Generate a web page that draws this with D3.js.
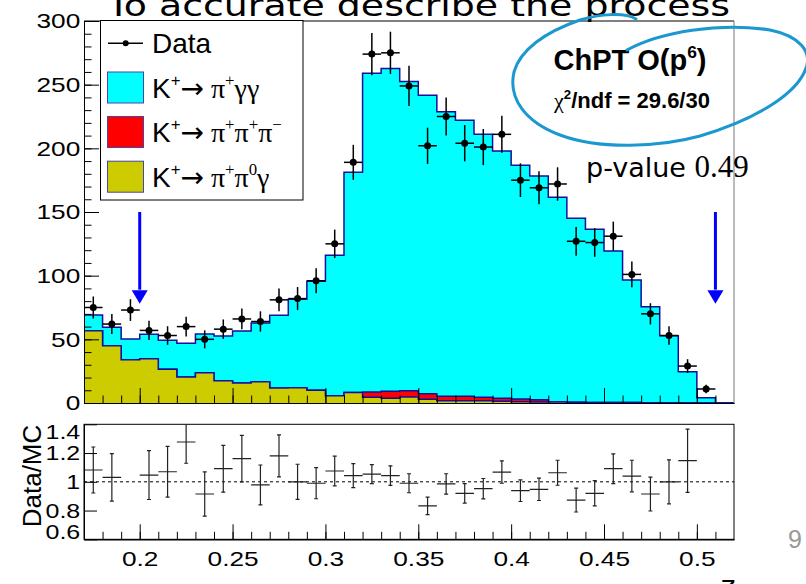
<!DOCTYPE html>
<html>
<head>
<meta charset="utf-8">
<script src="https://cdn.jsdelivr.net/npm/d3@7"></script>
<style>
  body { margin: 0; background: #fff; }
  svg { display: block; font-family: "Liberation Sans", Arial, sans-serif; }
</style>
</head>
<body>
<div id="chart"></div>
<script>
// bin centres in z (bin width 0.01)
const zCenters = [0.175, 0.185, 0.195, 0.205, 0.215, 0.225, 0.235, 0.245, 0.255, 0.265,
  0.275, 0.285, 0.295, 0.305, 0.315, 0.325, 0.335, 0.345, 0.355, 0.365,
  0.375, 0.385, 0.395, 0.405, 0.415, 0.425, 0.435, 0.445, 0.455, 0.465,
  0.475, 0.485, 0.495, 0.505, 0.515];
// observed events per bin
const dataCounts = [75, 62, 73, 57, 53, 60, 50, 58, 66, 64,
  81, 82, 96, 125, 189, 274, 275, 249, 202, 225,
  204, 201, 211, 175, 169, 172, 127, 126, 131, 101,
  70, 53, 29, 11, null];
// MC components (stacked bottom -> top)
const mcPi0G = [56.8, 45, 34, 34.8, 26.5, 20.4, 23.8, 17.5, 15.7, 16.7,
  11.8, 12, 10, 5.6, 8.2, 4.5, 3.7, 4.7, 2.9, 1.8,
  1.8, 1.8, 1.3, 1.0, 0.8, 0.8, 0.5, 0.4, 0.3, 0.3,
  0.2, 0.2, 0.1, 0, 0];
const mcPiPiPi = [0, 0, 0, 0, 0, 0, 0, 0, 0, 0,
  0, 0, 0, 0, 0, 4.1, 5.6, 5.0, 4.4, 3.5,
  3.5, 2.7, 2.4, 2.1, 1.8, 0, 0, 0, 0, 0,
  0, 0, 0, 0, 0];
const mcPiGG = [12.3, 14.4, 16.3, 19.2, 22.7, 26.5, 30.4, 35.1, 40.8, 46.1,
  57.1, 69.4, 85.6, 110.4, 173, 250.3, 253.3, 242.7, 234.3, 223.5,
  216.7, 206.5, 194.3, 183.6, 175.7, 160.7, 144.5, 136, 119.1, 96.3,
  75.4, 52.7, 24.5, 4.2, 0];
// Data/MC ratio and its error
const ratioVals = [1.082, 1.031, null, 1.047, 1.07, 1.277, 0.915, 1.091, 1.161, 0.978,
  1.18, 1.0, 0.99, 1.075, 1.043, 1.054, 1.043, 0.99, 0.832, 0.985,
  0.92, 0.952, 1.068, 0.938, 0.948, 1.063, 0.873, 0.92, 1.091, 1.04,
  0.915, 1.0, 1.147, null, null];
const ratioErrs = [0.16, 0.165, null, 0.17, 0.176, 0.148, 0.154, 0.163, 0.162, 0.139,
  0.146, 0.122, 0.108, 0.103, 0.083, 0.066, 0.068, 0.066, 0.061, 0.071,
  0.068, 0.071, 0.078, 0.075, 0.078, 0.087, 0.083, 0.088, 0.103, 0.11,
  0.118, 0.153, 0.22, null, null];

const cutArrows = [0.2, 0.51];
const xTicks = [0.2, 0.25, 0.3, 0.35, 0.4, 0.45, 0.5];
const yTicksMain = [0, 50, 100, 150, 200, 250, 300];
const yTicksRatio = [0.6, 0.8, 1, 1.2, 1.4];

const binW = 0.01;
const width = 806, height = 584;
const SERIF = "'Liberation Serif', 'Times New Roman', serif";
const COMIC = "'Comic Sans MS', 'DejaVu Sans', sans-serif";

const svg = d3.select("#chart").append("svg")
  .attr("width", width)
  .attr("height", height);

// scales
const x = d3.scaleLinear().domain([0.17, 0.52]).range([84, 734]);
const yMain = d3.scaleLinear().domain([0, 300]).range([403, 21]);
const yRatio = d3.scaleLinear().domain([0.6, 1.4]).range([539.3, 424.3]);

// ---- stacked MC histograms
const rows = zCenters.map((z, i) => ({
  z: z, pi0g: mcPi0G[i], pipipi: mcPiPiPi[i], pigg: mcPiGG[i]
}));
const keys = ["pi0g", "pipipi", "pigg"];
const fills = { pi0g: "#cccc00", pipipi: "#ff0000", pigg: "#00ffff" };
const series = d3.stack().keys(keys)(rows);

// step points at the low edge of every bin plus the closing edge
function stepPts(s) {
  let pts = s.map((d, i) => ({ x: zCenters[i] - binW / 2, y1: d[1] }));
  let last = pts[pts.length - 1];
  pts.push({ x: zCenters[zCenters.length - 1] + binW / 2, y1: last.y1 });
  return pts;
}

const area = d3.area()
  .curve(d3.curveStepAfter)
  .x(d => x(d.x))
  .y0(yMain(0))
  .y1(d => yMain(d.y1));
const topLine = d3.line()
  .curve(d3.curveStepAfter)
  .x(d => x(d.x))
  .y(d => yMain(d.y1));

// draw top layer first like ROOT does, each filled from zero
const stackG = svg.append("g");
series.slice().reverse().forEach(s => {
  let pts = stepPts(s);
  stackG.append("path").datum(pts)
    .attr("d", area)
    .attr("fill", fills[s.key]);
  stackG.append("path").datum(pts)
    .attr("d", topLine)
    .attr("fill", "none")
    .attr("stroke", "#10109a")
    .attr("stroke-width", 1.5);
});

// ---- axes for the main panel
function styleAxis(g) {
  g.selectAll("path, line").attr("stroke", "#000").attr("stroke-width", 1);
  g.selectAll("text")
    .attr("font-size", 21)
    .attr("fill", "#000")
    .attr("font-family", "'Liberation Sans', Arial, sans-serif")
    .attr("transform", "scale(1.25,1)");
}

const xMinor = d3.range(18, 52).map(v => v / 100);
const yMinorMain = d3.range(0, 301, 10);

svg.append("g")
  .attr("transform", `translate(0,${yMain(0)})`)
  .call(d3.axisBottom(x).tickValues(xMinor).tickSizeInner(-7.5).tickSizeOuter(0).tickFormat(""))
  .call(styleAxis);
svg.append("g")
  .attr("transform", `translate(0,${yMain(0)})`)
  .call(d3.axisBottom(x).tickValues(xTicks).tickSizeInner(-15).tickSizeOuter(0).tickFormat(""))
  .call(styleAxis);
svg.append("g")
  .attr("transform", `translate(${x.range()[0]},0)`)
  .call(d3.axisLeft(yMain).tickValues(yMinorMain).tickSizeInner(-7.5).tickSizeOuter(0).tickFormat(""))
  .call(styleAxis);
svg.append("g")
  .attr("transform", `translate(${x.range()[0]},0)`)
  .call(d3.axisLeft(yMain).tickValues(yTicksMain).tickSizeInner(-15).tickSizeOuter(0).tickPadding(3))
  .call(styleAxis);

// frame top + right
svg.append("line")
  .attr("x1", x.range()[0]).attr("x2", x.range()[1])
  .attr("y1", yMain(300)).attr("y2", yMain(300))
  .attr("stroke", "#000");
svg.append("line")
  .attr("x1", x.range()[1]).attr("x2", x.range()[1])
  .attr("y1", yMain(300)).attr("y2", yMain(0))
  .attr("stroke", "#777");

// ---- data points
const dataG = svg.append("g");
zCenters.forEach((z, i) => {
  let n = dataCounts[i];
  if (n === null) return;
  let e = Math.sqrt(n);
  dataG.append("line")
    .attr("x1", x(z - binW / 2)).attr("x2", x(z + binW / 2))
    .attr("y1", yMain(n)).attr("y2", yMain(n))
    .attr("stroke", "#000").attr("stroke-width", 1.5);
  dataG.append("line")
    .attr("x1", x(z)).attr("x2", x(z))
    .attr("y1", yMain(n - e)).attr("y2", yMain(n + e))
    .attr("stroke", "#000").attr("stroke-width", 1.5);
  dataG.append("circle")
    .attr("cx", x(z)).attr("cy", yMain(n)).attr("r", 3.5)
    .attr("fill", "#000");
});

// ---- cut arrows
cutArrows.forEach(z => {
  svg.append("line")
    .attr("x1", x(z)).attr("x2", x(z))
    .attr("y1", yMain(150)).attr("y2", yMain(89))
    .attr("stroke", "#0000ff").attr("stroke-width", 3);
  let tip = yMain(78), base = yMain(88.5);
  svg.append("path")
    .attr("d", `M${x(z) - 8},${base} L${x(z) + 8},${base} L${x(z)},${tip} Z`)
    .attr("fill", "#0000ff");
});

// ---- legend
const leg = svg.append("g");
leg.append("rect")
  .attr("x", 100.5).attr("y", 20.5).attr("width", 202.5).attr("height", 179.5)
  .attr("fill", "#fff").attr("stroke", "#000").attr("stroke-width", 1);

// rich text with superscripts and symbol glyphs
function rich(g, xp, yp, size, parts, anchor) {
  let t = g.append("text").attr("x", xp).attr("y", yp)
    .attr("font-size", size)
    .attr("text-anchor", anchor || "start");
  let cur = 0;
  parts.forEach(p => {
    let target = p.sup ? -size * 0.42 : 0;
    let s = t.append("tspan").text(p.t).attr("dy", target - cur);
    cur = target;
    if (p.sup) s.attr("font-size", size * 0.6);
    if (p.serif) s.style("font-family", SERIF).style("font-weight", "normal");
    if (p.arrow) s.style("font-family", "'DejaVu Sans', sans-serif");
  });
  return t;
}

const legendRows = [
  { y: 87.5, fill: fills.pigg, parts: [{ t: "K" }, { t: "+", sup: true }, { t: "\u2192", arrow: true }, { t: " \u03c0", serif: true }, { t: "+", sup: true, serif: true }, { t: "\u03b3\u03b3", serif: true }] },
  { y: 132, fill: fills.pipipi, parts: [{ t: "K" }, { t: "+", sup: true }, { t: "\u2192", arrow: true }, { t: " \u03c0", serif: true }, { t: "+", sup: true, serif: true }, { t: "\u03c0", serif: true }, { t: "+", sup: true, serif: true }, { t: "\u03c0", serif: true }, { t: "\u2212", sup: true, serif: true }] },
  { y: 176.7, fill: fills.pi0g, parts: [{ t: "K" }, { t: "+", sup: true }, { t: "\u2192", arrow: true }, { t: " \u03c0", serif: true }, { t: "+", sup: true, serif: true }, { t: "\u03c0", serif: true }, { t: "0", sup: true, serif: true }, { t: "\u03b3", serif: true }] }
];

// data row
leg.append("line").attr("x1", 108).attr("x2", 143).attr("y1", 43.3).attr("y2", 43.3)
  .attr("stroke", "#000").attr("stroke-width", 1.5);
leg.append("circle").attr("cx", 125.7).attr("cy", 43.3).attr("r", 3).attr("fill", "#000");
leg.append("text").attr("x", 152).attr("y", 53.3).attr("font-size", 28).text("Data");

legendRows.forEach(r => {
  leg.append("rect")
    .attr("x", 107.5).attr("y", r.y - 15.5).attr("width", 36).attr("height", 31)
    .attr("fill", r.fill).attr("stroke", "#4646a8").attr("stroke-width", 1);
  rich(leg, 152, r.y + 10, 28, r.parts);
});

// ---- annotations
svg.append("text")
  .attr("x", 107).attr("y", 16)
  .style("font-family", COMIC)
  .attr("font-size", 31)
  .attr("textLength", 623).attr("lengthAdjust", "spacingAndGlyphs")
  .text("To accurate describe the process");

const fitG = svg.append("g").attr("font-weight", "bold");
rich(fitG, 630, 70, 29, [{ t: "ChPT O(p" }, { t: "6", sup: true }, { t: ")" }], "middle");
rich(fitG, 632, 108, 22, [{ t: "\u03c7", serif: true }, { t: "2", sup: true }, { t: "/ndf = 29.6/30" }], "middle");

svg.append("path")
  .attr("d", "M627,50 C660,32 720,22 770,30 C800,36 812,52 806,68 C798,92 760,118 700,136 C660,147 600,150 560,135 C525,122 508,98 514,72 C520,50 545,32 580,20 C600,14 625,12 636,19")
  .attr("fill", "none")
  .attr("stroke", "#1c98d0")
  .attr("stroke-width", 3)
  .attr("stroke-linecap", "round");

const pv = svg.append("text").attr("x", 586).attr("y", 177);
pv.append("tspan")
  .style("font-family", COMIC)
  .attr("font-size", 27)
  .text("p-value ");
pv.append("tspan")
  .style("font-family", SERIF)
  .attr("font-size", 31)
  .text("0.49");

// ---- ratio panel
svg.append("defs").append("clipPath").attr("id", "ratioClip")
  .append("rect")
  .attr("x", x.range()[0]).attr("y", yRatio(1.4))
  .attr("width", x.range()[1] - x.range()[0])
  .attr("height", yRatio(0.6) - yRatio(1.4));

svg.append("rect")
  .attr("x", x.range()[0]).attr("y", yRatio(1.4))
  .attr("width", x.range()[1] - x.range()[0])
  .attr("height", yRatio(0.6) - yRatio(1.4))
  .attr("fill", "none").attr("stroke", "#000");

svg.append("line")
  .attr("x1", x.range()[0]).attr("x2", x.range()[1])
  .attr("y1", yRatio(1)).attr("y2", yRatio(1))
  .attr("stroke", "#000").attr("stroke-dasharray", "3,3");

const ratioG = svg.append("g").attr("clip-path", "url(#ratioClip)");
zCenters.forEach((z, i) => {
  let r = ratioVals[i];
  if (r === null) return;
  let e = ratioErrs[i];
  ratioG.append("line")
    .attr("x1", x(z - binW / 2)).attr("x2", x(z + binW / 2))
    .attr("y1", yRatio(r)).attr("y2", yRatio(r))
    .attr("stroke", "#222").attr("stroke-width", 1.2);
  ratioG.append("line")
    .attr("x1", x(z)).attr("x2", x(z))
    .attr("y1", yRatio(r - e)).attr("y2", yRatio(r + e))
    .attr("stroke", "#222").attr("stroke-width", 1.2);
  [r - e, r + e].forEach(v => {
    ratioG.append("line")
      .attr("x1", x(z) - 2).attr("x2", x(z) + 2)
      .attr("y1", yRatio(v)).attr("y2", yRatio(v))
      .attr("stroke", "#222").attr("stroke-width", 1.2);
  });
});

svg.append("g")
  .attr("transform", `translate(0,${yRatio(0.6)})`)
  .call(d3.axisBottom(x).tickValues(xMinor).tickSizeInner(-7.5).tickSizeOuter(0).tickFormat(""))
  .call(styleAxis);
svg.append("g")
  .attr("transform", `translate(0,${yRatio(0.6)})`)
  .call(d3.axisBottom(x).tickValues(xTicks).tickSizeInner(-15).tickSizeOuter(0).tickPadding(12)
    .tickFormat(d3.format("")))
  .call(styleAxis);
const ratioY = svg.append("g")
  .attr("transform", `translate(${x.range()[0]},0)`)
  .call(d3.axisLeft(yRatio).tickValues(yTicksRatio).tickSizeInner(-13).tickSizeOuter(0).tickPadding(3)
    .tickFormat(d3.format("")))
  .call(styleAxis);
// ROOT pulls the end labels inside the pad
ratioY.selectAll(".tick text")
  .attr("font-size", 20)
  .attr("dy", d => d === 1.4 ? "0.7em" : d === 0.6 ? "-0.05em" : "0.34em");

svg.append("text")
  .attr("transform", `translate(41,476) rotate(-90)`)
  .attr("text-anchor", "middle")
  .attr("font-size", 26)
  .text("Data/MC");

svg.append("text")
  .attr("x", 728).attr("y", 596)
  .attr("text-anchor", "middle")
  .style("font-family", COMIC)
  .attr("font-size", 28)
  .text("z");

svg.append("text")
  .attr("x", 795).attr("y", 548)
  .attr("text-anchor", "middle")
  .attr("font-size", 25)
  .attr("fill", "#999")
  .text("9");
</script>
</body>
</html>
